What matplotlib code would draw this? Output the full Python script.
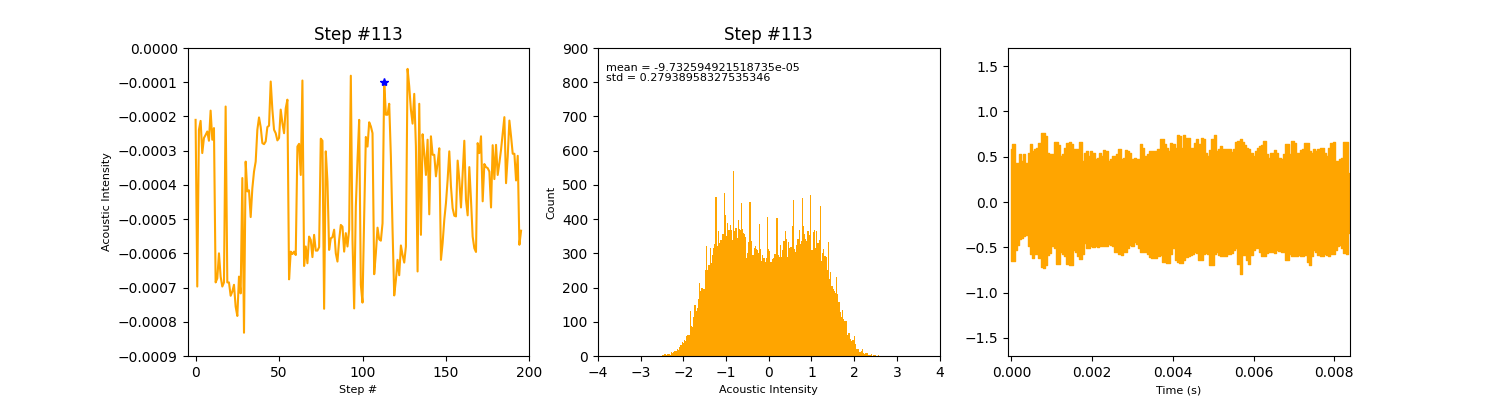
import numpy as np
import matplotlib
matplotlib.use("Agg")
import matplotlib.pyplot as plt

# Panel 1: intensity per step (units of 1e-4, sign flipped below)
step_intensity = [
    2.10, 6.97, 2.39, 2.13, 3.07, 2.63, 2.54, 2.44, 2.71, 1.83, 2.68, 2.34, 6.85, 6.73, 6.00, 6.68,
    6.97, 6.85, 1.71, 6.85, 6.85, 7.24, 7.12, 6.92, 7.56, 7.83, 6.68, 7.17, 3.80, 8.32, 3.32, 4.19,
    4.16, 4.94, 4.10, 3.61, 3.32, 2.39, 2.03, 2.31, 2.78, 2.81, 2.73, 2.31, 2.27, 0.98, 1.80, 2.39,
    2.49, 2.70, 2.63, 1.80, 2.19, 2.49, 1.76, 1.51, 6.76, 5.95, 6.02, 5.95, 6.05, 2.88, 2.80, 3.71,
    0.95, 6.37, 5.80, 6.29, 5.51, 5.61, 6.11, 5.46, 5.92, 5.92, 5.82, 2.65, 2.71, 7.62, 3.02, 3.90,
    5.90, 5.56, 5.53, 5.31, 6.00, 6.24, 5.61, 5.17, 5.22, 5.95, 5.41, 5.80, 5.31, 0.81, 5.61, 7.61,
    4.63, 3.27, 2.10, 6.92, 7.44, 4.92, 2.60, 2.88, 2.17, 2.29, 2.49, 6.61, 6.00, 5.25, 5.59, 5.63,
    5.12, 0.98, 1.95, 1.95, 1.63, 3.17, 5.31, 7.23, 6.78, 6.19, 6.64, 5.77, 6.05, 6.27, 5.80, 0.61,
    1.12, 1.80, 2.21, 1.34, 2.88, 6.53, 1.63, 5.46, 2.52, 3.07, 3.71, 2.68, 4.86, 2.58, 3.12, 3.12,
    3.75, 3.36, 2.93, 6.19, 5.70, 5.02, 4.53, 3.85, 3.02, 4.05, 4.68, 4.90, 4.92, 3.29, 3.85, 4.66,
    3.66, 2.71, 4.44, 4.89, 3.48, 4.44, 5.51, 5.85, 5.96, 2.78, 3.07, 2.58, 4.48, 3.39, 3.48, 3.51,
    3.61, 4.66, 2.84, 3.83, 2.83, 3.71, 3.36, 2.97, 2.49, 2.02, 3.95, 3.17, 2.12, 2.58, 3.09, 3.09,
    3.87, 3.15, 5.75, 5.34,
]
current_step = 113

# Panel 2: histogram counts, one per bin
hist_start = -2.487
hist_width = 0.0234
hist_counts = [
    2, 3, 5, 5, 3, 5, 5, 5, 3, 12, 10, 12, 14, 16, 16, 20, 18, 25, 31, 31, 41, 38, 46, 43, 58, 60,
    61, 62, 131, 88, 86, 114, 148, 148, 132, 139, 166, 212, 190, 199, 199, 195, 195, 251, 321, 251,
    265, 265, 315, 273, 294, 317, 326, 464, 464, 321, 365, 331, 339, 339, 356, 356, 475, 411, 351,
    388, 368, 368, 382, 368, 339, 540, 365, 375, 375, 345, 397, 370, 368, 446, 370, 360, 356, 349,
    285, 300, 333, 450, 450, 336, 294, 294, 315, 321, 312, 310, 302, 386, 312, 278, 294, 287, 287,
    275, 287, 405, 314, 308, 275, 275, 282, 287, 297, 297, 403, 403, 294, 290, 323, 288, 310, 336,
    336, 366, 341, 288, 333, 317, 318, 318, 380, 456, 314, 304, 323, 343, 343, 368, 326, 336, 462,
    380, 356, 341, 336, 365, 365, 353, 469, 310, 310, 362, 368, 317, 366, 329, 329, 340, 438, 278,
    302, 314, 292, 292, 290, 251, 333, 224, 245, 205, 205, 195, 190, 185, 231, 180, 158, 158, 129,
    115, 134, 107, 102, 102, 102, 60, 66, 66, 49, 45, 47, 47, 58, 34, 21, 21, 21, 13, 13, 15, 19,
    8, 6, 8, 8, 8, 3, 2, 2, 5, 0, 3, 3, 3, 0, 0, 3,
]
mean_text = "mean = -9.732594921518735e-05"
std_text = "std = 0.27938958327535346"

# Panel 3: waveform too dense to read sample by sample, so upper and lower envelope
wave_end = 0.00836
wave_upper = [
    .58, .64, .43, .43, .53, .45, .53, .43, .54, .64, .56, .58, .60, .65, .76, .76, .73, .54, .53, .53,
    .66, .66, .63, .51, .53, .60, .65, .66, .64, .59, .59, .58, .66, .45, .54, .56, .51, .56, .54, .47,
    .49, .54, .51, .57, .56, .45, .48, .51, .51, .53, .58, .47, .49, .57, .56, .54, .47, .49, .47, .48,
    .64, .60, .51, .53, .56, .56, .56, .56, .58, .69, .69, .64, .60, .56, .65, .64, .60, .74, .73, .60,
    .74, .71, .71, .60, .60, .65, .69, .64, .71, .69, .54, .51, .57, .69, .74, .56, .58, .62, .59, .58,
    .58, .59, .55, .58, .66, .67, .69, .66, .63, .60, .58, .54, .51, .56, .60, .62, .63, .67, .53, .49,
    .54, .54, .57, .54, .49, .48, .53, .64, .64, .53, .67, .65, .54, .54, .57, .59, .65, .65, .56, .54,
    .58, .56, .59, .60, .60, .54, .51, .60, .65, .66, .45, .45, .48, .49, .66, .66, .32,
]
wave_lower = [
    -.65, -.65, -.53, -.47, -.41, -.40, -.38, -.36, -.49, -.57, -.62, -.57, -.57, -.62, -.72, -.73, -.70,
    -.59, -.56, -.49, -.51, -.68, -.68, -.55, -.57, -.60, -.68, -.69, -.69, -.53, -.55, -.60, -.63, -.57,
    -.45, -.51, -.51, -.49, -.50, -.49, -.50, -.49, -.49, -.49, -.49, -.46, -.47, -.49, -.55, -.55, -.57,
    -.58, -.55, -.55, -.51, -.47, -.49, -.44, -.46, -.51, -.55, -.55, -.55, -.57, -.61, -.62, -.62, -.62,
    -.60, -.59, -.66, -.66, -.67, -.67, -.57, -.51, -.64, -.66, -.67, -.67, -.64, -.61, -.60, -.59, -.57,
    -.55, -.56, -.64, -.64, -.57, -.56, -.57, -.70, -.70, -.57, -.55, -.59, -.60, -.60, -.60, -.57, -.57,
    -.56, -.53, -.51, -.68, -.79, -.59, -.59, -.64, -.68, -.59, -.53, -.51, -.51, -.55, -.60, -.60, -.56,
    -.55, -.55, -.55, -.56, -.53, -.54, -.55, -.55, -.64, -.64, -.57, -.60, -.60, -.60, -.59, -.60, -.60,
    -.59, -.66, -.69, -.60, -.53, -.55, -.59, -.60, -.60, -.57, -.59, -.60, -.57, -.57, -.53, -.49, -.47,
    -.51, -.56, -.57, -.34,
]

line_color = "orange"
label_size = 8

fig, axes = plt.subplots(1, 3, figsize=(15, 4))

# step plot
ax = axes[0]
steps = np.arange(len(step_intensity))
values = -np.array(step_intensity) * 1e-4
ax.plot(steps, values, color=line_color)
ax.plot(steps[current_step], values[current_step], "*", color="blue")
ax.set_xlim(-4.85, 200)
ax.set_ylim(-0.0009, 0)
ax.set_title(f"Step #{current_step}")
ax.set_xlabel("Step #", fontsize=label_size)
ax.set_ylabel("Acoustic Intensity", fontsize=label_size)

# histogram
ax = axes[1]
edges = hist_start + hist_width * np.arange(len(hist_counts) + 1)
ax.hist(edges[:-1] + hist_width / 2, bins=edges, weights=hist_counts, color=line_color)
ax.set_xlim(-4, 4)
ax.set_ylim(0, 900)
ax.set_title(f"Step #{current_step}")
ax.set_xlabel("Acoustic Intensity", fontsize=label_size)
ax.set_ylabel("Count", fontsize=label_size)
ax.text(0.023, 0.952, mean_text + "\n" + std_text, transform=ax.transAxes,
        fontsize=label_size, va="top", linespacing=1.07)

# waveform
ax = axes[2]
t = np.linspace(0, wave_end, len(wave_upper))
ax.fill_between(t, wave_lower, wave_upper, step="mid", color=line_color, lw=1)
ax.set_xlim(-0.00008, 0.00839)
ax.set_ylim(-1.7, 1.7)
ax.set_xticks([0, 0.002, 0.004, 0.006, 0.008])
ax.set_xlabel("Time (s)", fontsize=label_size)

plt.savefig("out.png", dpi=100)
